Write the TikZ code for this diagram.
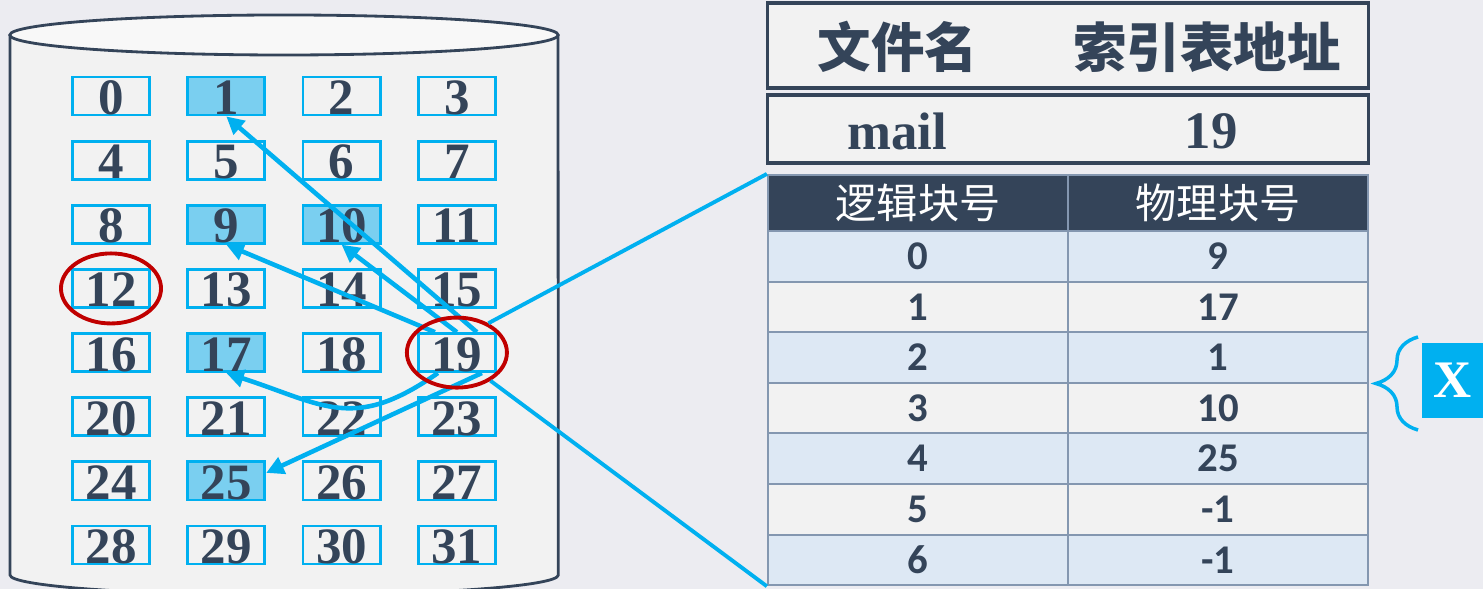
\documentclass[tikz,border=0pt]{standalone}
\usepackage{fontspec}
\setmainfont{Liberation Serif}
\newfontfamily\cjk{Noto Sans CJK SC}
\newfontfamily\tabfont{Carlito}
\usepackage{xcolor}
\usepackage{tikz}
\usetikzlibrary{arrows.meta, calc, shapes.geometric, decorations.pathreplacing}

\definecolor{slate}{RGB}{52,68,89}
\definecolor{sky}{RGB}{0,176,240}
\definecolor{skyfill}{RGB}{122,207,240}
\definecolor{ringred}{RGB}{192,0,0}
\definecolor{paper}{RGB}{242,242,242}
\definecolor{rowblue}{RGB}{221,232,244}
\definecolor{gridline}{RGB}{132,151,176}
\definecolor{backdrop}{RGB}{236,236,241}

\tikzset{
  block/.style={draw=sky, line width=0.8pt, minimum width=0.77cm, minimum height=0.38cm,
    inner sep=0pt, text height=0.37cm, text depth=0pt, text=slate,
    font=\bfseries\fontsize{14.5}{14.5}\selectfont},
  ptr/.style={draw=sky, line width=1.3pt, -{Triangle[length=5pt,width=5pt]}},
  ring/.style={ellipse, draw=ringred, line width=1.1pt, minimum width=1cm,
    minimum height=0.7cm, inner sep=0pt},
  fcbbox/.style={draw=slate, line width=0.9pt, fill=paper, minimum width=6cm, inner sep=0pt},
  tabcell/.style={draw=gridline, line width=0.6pt, minimum width=3cm, minimum height=0.506cm,
    inner sep=0pt, text=slate, font=\tabfont\bfseries\fontsize{11.6}{12}\selectfont},
  tabhead/.style={tabcell, fill=slate, minimum height=0.56cm, text=white,
    font=\cjk\fontsize{11.7}{12}\selectfont},
}

\begin{document}
\begin{tikzpicture}[x=0.01cm, y=-0.01cm]
    \useasboundingbox (0,0) rectangle (1483,589);
    \fill[backdrop] (0,0) rectangle (1483,589);

    % Disk
    \draw[slate, line width=0.8pt, fill=paper] (10,35) -- (10,575)
        arc[start angle=180, end angle=360, x radius=2.74cm, y radius=0.2cm] -- (558,35);
    \draw[slate, line width=0.8pt, fill=paper!50!white] (284,35) ellipse[x radius=2.74cm, y radius=0.2cm];

    % Blocks 0..31
    \foreach \n in {0,...,31}{
        \pgfmathtruncatemacro{\col}{mod(\n,4)}
        \pgfmathtruncatemacro{\row}{div(\n,4)}
        \pgfmathtruncatemacro{\hit}{(\n==1)+(\n==9)+(\n==10)+(\n==17)+(\n==25)}
        \ifnum\hit=1 \def\tint{skyfill}\else\def\tint{paper}\fi
        \node[block, fill=\tint] (c\n) at (111+115.3*\col, 96+64.15*\row) {\n};
    }

    % Pointers from index block 19
    \draw[ptr] ($(c19.north)+(20,0)$) -- (c1.south);
    \draw[ptr] (c19.north) -- (c10.south);
    \draw[ptr] ($(c19.north)+(-22,0)$) -- (c9.south);
    \draw[ptr] ($(c19.south)+(-19,0)$) to[out=215, in=-18, looseness=1.25] (c17.south);
    \draw[ptr] ($(c19.south)+(25,0)$) -- ($(c25.east)+(0,-8)$);

    \node[ring] (ring12) at (c12) {};
    \node[ring] (ring19) at (c19) {};

    % Directory entry
    \node[fcbbox, minimum height=0.85cm] (names) at (1068,45.5) {};
    \node[text=slate, font=\cjk\bfseries\fontsize{15.2}{16}\selectfont] (fnlabel) at (898,47) {文件名};
    \node[text=slate, font=\cjk\bfseries\fontsize{15.2}{16}\selectfont] (idxlabel) at (1207,47) {索引表地址};
    \node[fcbbox, minimum height=0.68cm] (entry) at (1068,129) {};
    \node[text=slate, font=\bfseries\fontsize{15}{15}\selectfont] (fname) at (897,131) {mail};
    \node[text=slate, font=\bfseries\fontsize{15}{15}\selectfont] (faddr) at (1211,131) {19};

    % Index table
    \node[tabhead] (h1) at (918,203) {逻辑块号};
    \node[tabhead] (h2) at (1218,203) {物理块号};
    \foreach \k/\p in {0/9,1/17,2/1,3/10,4/25,5/-1,6/-1}{
        \pgfmathtruncatemacro{\band}{mod(\k,2)}
        \ifnum\band=0 \def\tint{rowblue}\else\def\tint{paper}\fi
        \node[tabcell, fill=\tint] (l\k) at (918, 256.3+50.6*\k) {\k};
        \node[tabcell, fill=\tint] (p\k) at (1218, 256.3+50.6*\k) {\p};
    }

    % Zoom lines
    \draw[sky, line width=1.1pt] (ring19.43) -- (h1.north west);
    \draw[sky, line width=1.1pt] (ring19.-40) -- (l6.south west);

    % Brace and X
    \draw[sky, line width=1pt, decorate, decoration={brace, amplitude=0.42cm}] (1418,430) -- (1418,337);
    \node[fill=sky, minimum width=0.61cm, minimum height=0.75cm, inner sep=0pt, text=white,
        font=\bfseries\fontsize{15}{15}\selectfont] (xbox) at (1452.5,380.5) {X};
\end{tikzpicture}
\end{document}
